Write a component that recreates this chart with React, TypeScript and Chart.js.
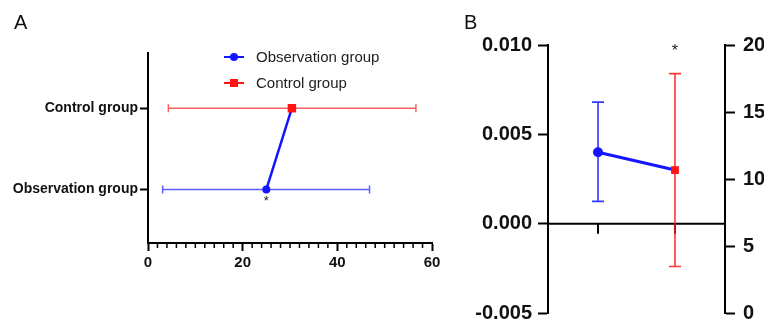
import React, { useEffect, useRef } from 'react';
import { Chart, registerables } from 'chart.js';

Chart.register(...registerables);

const FONT = 'Arial, "Liberation Sans", Helvetica, sans-serif';

// ---------- Panel A data ----------
const groupsA = ['Observation group', 'Control group'];
const meansA = [25, 30.4];
const lowA = [3.1, 4.3];
const highA = [46.8, 56.6];
const xTicksA = [0, 20, 40, 60];
const starsA = ['*', ''];

// ---------- Panel B data ----------
const categoriesB = ['Observation group', 'Control group'];
const meansB = [0.004, 0.003];
const lowB = [0.00125, -0.0024];
const highB = [0.0068, 0.0084];
const leftTicksB = [-0.005, 0, 0.005, 0.01];
const rightTicksB = [0, 5, 10, 15, 20];
const starsB = ['', '*'];

const BLUE = '#1414ff';
const RED = '#ff1414';
const BAR_COLORS_A = ['rgba(40,40,255,0.75)', 'rgba(255,40,40,0.75)'];
const BAR_COLORS_B = ['rgba(30,30,255,0.9)', 'rgba(255,30,30,0.9)'];
const POINT_COLORS = [BLUE, RED];
const POINT_STYLES = ['circle', 'rect'];

const noPad = (s: any) => {
  s.paddingTop = 0;
  s.paddingBottom = 0;
};

function PanelA() {
  const ref = useRef<HTMLCanvasElement>(null);
  useEffect(() => {
    if (!ref.current) return;
    const plugin = {
      id: 'panelA',
      beforeDatasetsDraw(chart: any) {
        const { ctx } = chart;
        const xs = chart.scales.x;
        const ys = chart.scales.y;
        ctx.save();
        groupsA.forEach((_, i) => {
          const py = ys.getPixelForValue(i + 1);
          const x0 = xs.getPixelForValue(lowA[i]);
          const x1 = xs.getPixelForValue(highA[i]);
          ctx.strokeStyle = BAR_COLORS_A[i];
          ctx.lineWidth = 1.5;
          ctx.beginPath();
          ctx.moveTo(x0, py);
          ctx.lineTo(x1, py);
          ctx.moveTo(x0, py - 4);
          ctx.lineTo(x0, py + 4);
          ctx.moveTo(x1, py - 4);
          ctx.lineTo(x1, py + 4);
          ctx.stroke();
        });
        ctx.restore();
      },
      afterDraw(chart: any) {
        const { ctx, chartArea } = chart;
        const xs = chart.scales.x;
        const ys = chart.scales.y;
        ctx.save();
        // minor ticks
        ctx.strokeStyle = '#000';
        ctx.lineWidth = 1.5;
        ctx.beginPath();
        for (let v = 2; v < 60; v += 2) {
          if (v % 20 === 0) continue;
          const px = xs.getPixelForValue(v);
          ctx.moveTo(px, chartArea.bottom);
          ctx.lineTo(px, chartArea.bottom + 5);
        }
        ctx.stroke();
        // stars
        ctx.fillStyle = '#222';
        ctx.font = `13px ${FONT}`;
        ctx.textAlign = 'center';
        ctx.textBaseline = 'top';
        starsA.forEach((s, i) => {
          if (!s) return;
          ctx.fillText(s, xs.getPixelForValue(meansA[i]), ys.getPixelForValue(i + 1) + 6);
        });
        // legend
        ctx.textAlign = 'left';
        ctx.textBaseline = 'middle';
        ctx.font = `15px ${FONT}`;
        groupsA.forEach((g, i) => {
          const ly = chartArea.top + 4 + i * 26;
          const lx = chartArea.left + 76;
          ctx.strokeStyle = POINT_COLORS[i];
          ctx.lineWidth = 2;
          ctx.beginPath();
          ctx.moveTo(lx, ly);
          ctx.lineTo(lx + 20, ly);
          ctx.stroke();
          ctx.fillStyle = POINT_COLORS[i];
          if (POINT_STYLES[i] === 'circle') {
            ctx.beginPath();
            ctx.arc(lx + 10, ly, 4, 0, Math.PI * 2);
            ctx.fill();
          } else {
            ctx.fillRect(lx + 6, ly - 4, 8, 8);
          }
          ctx.fillStyle = '#222';
          ctx.fillText(g, lx + 32, ly + 1);
        });
        ctx.restore();
      },
    };

    const chart = new Chart(ref.current, {
      type: 'scatter',
      data: {
        datasets: [
          {
            label: groupsA[0],
            data: [{ x: meansA[0], y: 1 }],
            pointStyle: 'circle',
            pointRadius: 4,
            backgroundColor: BLUE,
            borderColor: BLUE,
            borderWidth: 0,
          },
          {
            label: groupsA[1],
            data: [{ x: meansA[1], y: 2 }],
            pointStyle: 'rect',
            pointRadius: 6,
            backgroundColor: RED,
            borderColor: RED,
            borderWidth: 0,
          },
          {
            label: 'connector',
            data: meansA.map((m, i) => ({ x: m, y: i + 1 })),
            showLine: true,
            borderColor: BLUE,
            borderWidth: 2.5,
            pointRadius: 0,
          } as any,
        ],
      },
      options: {
        responsive: false,
        animation: false,
        events: [],
        layout: { padding: { top: 53, right: 18, bottom: 0, left: 0 } },
        plugins: { legend: { display: false }, tooltip: { enabled: false } },
        scales: {
          x: {
            type: 'linear',
            min: 0,
            max: 60,
            afterBuildTicks: (s: any) => {
              s.ticks = xTicksA.map((v) => ({ value: v }));
            },
            afterFit: (s: any) => {
              s.height = 79;
              s.paddingLeft = 0;
              s.paddingRight = 0;
            },
            grid: { drawOnChartArea: false, drawTicks: true, tickLength: 8, tickWidth: 2, tickColor: '#000' },
            border: { display: true, color: '#000', width: 2 },
            ticks: {
              color: '#111',
              font: { family: FONT, size: 15, weight: 'bold' },
              padding: 3,
              maxRotation: 0,
              autoSkip: false,
            },
          },
          y: {
            type: 'linear',
            min: 0.34,
            max: 2.68,
            afterBuildTicks: (s: any) => {
              s.ticks = groupsA.map((_, i) => ({ value: i + 1 }));
            },
            afterFit: (s: any) => {
              s.width = 148;
              noPad(s);
            },
            grid: { drawOnChartArea: false, drawTicks: true, tickLength: 8, tickWidth: 2, tickColor: '#000' },
            border: { display: true, color: '#000', width: 2 },
            ticks: {
              color: '#111',
              font: { family: FONT, size: 14, weight: 'bold' },
              padding: 2,
              autoSkip: false,
              callback: (v: any) => groupsA[Math.round(Number(v)) - 1] ?? '',
            },
          },
        },
      } as any,
      plugins: [plugin],
    });
    return () => chart.destroy();
  }, []);
  return (
    <canvas
      ref={ref}
      width={450}
      height={322}
      style={{ position: 'absolute', left: 0, top: 0, width: 450, height: 322 }}
    />
  );
}

function PanelB() {
  const ref = useRef<HTMLCanvasElement>(null);
  useEffect(() => {
    if (!ref.current) return;
    const plugin = {
      id: 'panelB',
      beforeDatasetsDraw(chart: any) {
        const { ctx, chartArea } = chart;
        const xs = chart.scales.x;
        const ys = chart.scales.y;
        ctx.save();
        const y0 = ys.getPixelForValue(0);
        ctx.strokeStyle = '#000';
        ctx.lineWidth = 2;
        ctx.beginPath();
        ctx.moveTo(chartArea.left, y0);
        ctx.lineTo(chartArea.right, y0);
        categoriesB.forEach((_, i) => {
          const px = xs.getPixelForValue(i + 1);
          ctx.moveTo(px, y0);
          ctx.lineTo(px, y0 + 10);
        });
        ctx.stroke();
        categoriesB.forEach((_, i) => {
          const px = xs.getPixelForValue(i + 1);
          const a = ys.getPixelForValue(lowB[i]);
          const b = ys.getPixelForValue(highB[i]);
          ctx.strokeStyle = BAR_COLORS_B[i];
          ctx.lineWidth = 1.6;
          ctx.beginPath();
          ctx.moveTo(px, a);
          ctx.lineTo(px, b);
          ctx.moveTo(px - 6, a);
          ctx.lineTo(px + 6, a);
          ctx.moveTo(px - 6, b);
          ctx.lineTo(px + 6, b);
          ctx.stroke();
        });
        ctx.restore();
      },
      afterDraw(chart: any) {
        const { ctx, chartArea } = chart;
        const xs = chart.scales.x;
        ctx.save();
        ctx.fillStyle = '#222';
        ctx.font = `16px ${FONT}`;
        ctx.textAlign = 'center';
        ctx.textBaseline = 'top';
        starsB.forEach((s, i) => {
          if (!s) return;
          ctx.fillText(s, xs.getPixelForValue(i + 1), chartArea.top - 1);
        });
        ctx.restore();
      },
    };

    const chart = new Chart(ref.current, {
      type: 'scatter',
      data: {
        datasets: [
          {
            label: categoriesB[0],
            data: [{ x: 1, y: meansB[0] }],
            pointStyle: 'circle',
            pointRadius: 5,
            backgroundColor: BLUE,
            borderColor: BLUE,
            borderWidth: 0,
            yAxisID: 'y',
          },
          {
            label: categoriesB[1],
            data: [{ x: 2, y: meansB[1] }],
            pointStyle: 'rect',
            pointRadius: 5.5,
            backgroundColor: RED,
            borderColor: RED,
            borderWidth: 0,
            yAxisID: 'y',
          },
          {
            label: 'connector',
            data: meansB.map((m, i) => ({ x: i + 1, y: m })),
            showLine: true,
            borderColor: BLUE,
            borderWidth: 3,
            pointRadius: 0,
            yAxisID: 'y',
          } as any,
        ],
      },
      options: {
        responsive: false,
        animation: false,
        events: [],
        layout: { padding: { top: 45, right: 0, bottom: 9, left: 0 } },
        plugins: { legend: { display: false }, tooltip: { enabled: false } },
        scales: {
          x: { type: 'linear', min: 0.35, max: 2.65, display: false },
          y: {
            type: 'linear',
            position: 'left',
            min: -0.005,
            max: 0.01,
            afterBuildTicks: (s: any) => {
              s.ticks = leftTicksB.map((v) => ({ value: v }));
            },
            afterFit: (s: any) => {
              s.width = 98;
              noPad(s);
            },
            grid: { drawOnChartArea: false, drawTicks: true, tickLength: 10, tickWidth: 2, tickColor: '#000' },
            border: { display: true, color: '#000', width: 2 },
            ticks: {
              color: '#111',
              font: { family: FONT, size: 20, weight: 'bold' },
              padding: 6,
              autoSkip: false,
              callback: (v: any) => Number(v).toFixed(3),
            },
          },
          y1: {
            type: 'linear',
            position: 'right',
            min: 0,
            max: 20,
            afterBuildTicks: (s: any) => {
              s.ticks = rightTicksB.map((v) => ({ value: v }));
            },
            afterFit: (s: any) => {
              s.width = 39;
              noPad(s);
            },
            grid: { drawOnChartArea: false, drawTicks: true, tickLength: 10, tickWidth: 2, tickColor: '#000' },
            border: { display: true, color: '#000', width: 2 },
            ticks: {
              color: '#111',
              font: { family: FONT, size: 20, weight: 'bold' },
              padding: 8,
              autoSkip: false,
              callback: (v: any) => String(v),
            },
          },
        },
      } as any,
      plugins: [plugin],
    });
    return () => chart.destroy();
  }, []);
  return (
    <canvas
      ref={ref}
      width={314}
      height={322}
      style={{ position: 'absolute', left: 450, top: 0, width: 314, height: 322 }}
    />
  );
}

export default function App() {
  const label: React.CSSProperties = {
    position: 'absolute',
    fontFamily: FONT,
    fontSize: 20,
    lineHeight: '20px',
    color: '#111',
  };
  return (
    <div
      style={{
        position: 'fixed',
        left: 0,
        top: 0,
        width: 764,
        height: 322,
        background: '#fff',
        overflow: 'hidden',
      }}
    >
      <PanelA />
      <PanelB />
      <div style={{ ...label, left: 14, top: 12 }}>A</div>
      <div style={{ ...label, left: 464, top: 12 }}>B</div>
    </div>
  );
}
